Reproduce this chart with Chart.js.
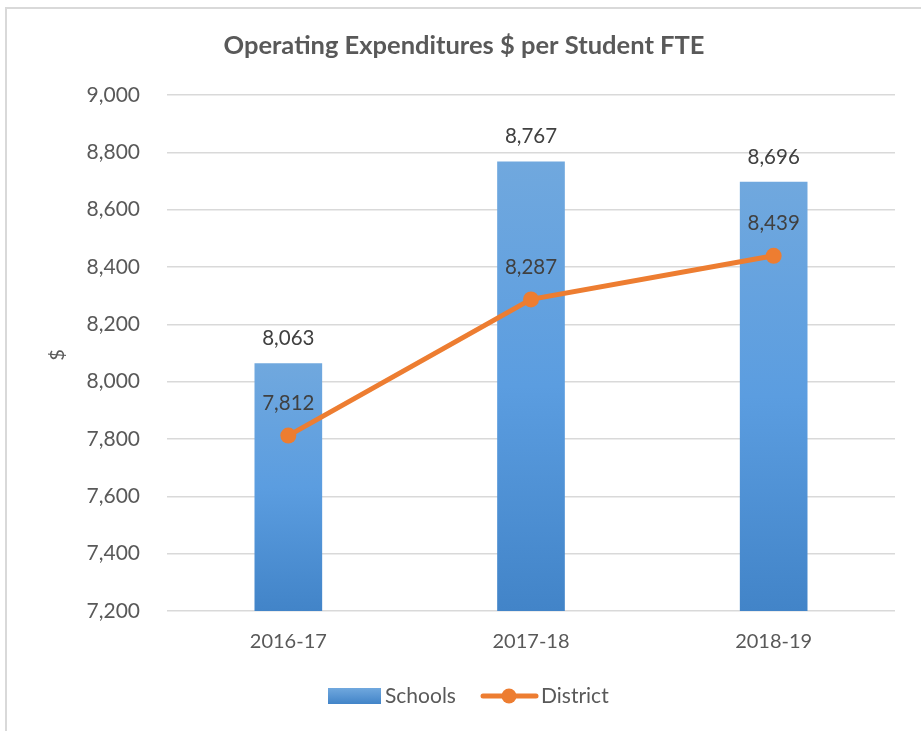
<!DOCTYPE html>
<html>
<head>
<meta charset="utf-8">
<script src="https://cdn.jsdelivr.net/npm/chart.js@4.4.0/dist/chart.umd.min.js"></script>
<style>
  html, body { margin: 0; padding: 0; background: #fff; }
  #frame { position: absolute; left: 5px; top: 7px; width: 940px; height: 760px; border: 2px solid #d9d9d9; }
  #wrap { position: absolute; left: 0; top: 0; width: 921px; height: 731px; }
</style>
</head>
<body>
<div id="frame"></div>
<div id="wrap"><canvas id="chart" width="921" height="731"></canvas></div>
<script>
  // Data
  const years = ['2016-17', '2017-18', '2018-19'];
  const schools = [8063, 8767, 8696];
  const district = [7812, 8287, 8439];
  const yMin = 7200;
  const yMax = 9000;
  const yStep = 200;

  const FONT = 'Lato, "Open Sans", sans-serif';
  const GREY = '#595959';
  const ORANGE = '#ed7d31';

  function fmt(v) {
    return v.toLocaleString('en-US');
  }

  // Gradient for the bars, per bar from its top down to the axis
  function barFill(ctx) {
    const chart = ctx.chart;
    const area = chart.chartArea;
    if (!area || ctx.type !== 'data') return '#5b9bd5';
    const top = chart.scales.y.getPixelForValue(ctx.raw);
    const g = chart.ctx.createLinearGradient(0, top, 0, area.bottom);
    g.addColorStop(0, '#70a8de');
    g.addColorStop(0.5, '#5b9de0');
    g.addColorStop(1, '#4284c8');
    return g;
  }

  // Title, axis title, data labels and legend drawn on the canvas
  const extras = {
    id: 'extras',
    afterDatasetsDraw(chart) {
      const c = chart.ctx;
      c.save();
      c.fillStyle = '#404040';
      c.font = '20.5px ' + FONT;
      c.textAlign = 'center';
      c.textBaseline = 'middle';
      chart.getDatasetMeta(0).data.forEach((el, i) => {
        c.fillText(fmt(schools[i]), el.x, el.y - 25);
      });
      chart.getDatasetMeta(1).data.forEach((el, i) => {
        c.fillText(fmt(district[i]), el.x, el.y - 32);
      });
      c.restore();
    },
    afterDraw(chart) {
      const c = chart.ctx;
      c.save();
      // title
      c.fillStyle = GREY;
      c.font = 'bold 25.5px ' + FONT;
      c.textAlign = 'center';
      c.textBaseline = 'middle';
      c.fillText('Operating Expenditures $ per Student FTE', 464, 46);

      // y axis title
      c.save();
      c.translate(58, 355);
      c.rotate(-Math.PI / 2);
      c.font = '20px ' + FONT;
      c.fillText('$', 0, 0);
      c.restore();

      // legend
      const ly = 696;
      const g = c.createLinearGradient(0, ly - 8, 0, ly + 8);
      g.addColorStop(0, '#70a8de');
      g.addColorStop(1, '#4284c8');
      c.fillStyle = g;
      c.fillRect(328, ly - 8, 53, 16);
      c.fillStyle = GREY;
      c.font = '21px ' + FONT;
      c.textAlign = 'left';
      c.fillText('Schools', 385, ly);

      c.strokeStyle = ORANGE;
      c.lineWidth = 5;
      c.lineCap = 'round';
      c.beginPath();
      c.moveTo(483, ly);
      c.lineTo(536, ly);
      c.stroke();
      c.fillStyle = ORANGE;
      c.beginPath();
      c.arc(509, ly, 7.5, 0, Math.PI * 2);
      c.fill();
      c.fillStyle = GREY;
      c.fillText('District', 541, ly);
      c.restore();
    }
  };

  const ctx = document.getElementById('chart').getContext('2d');
  const chart = new Chart(ctx, {
    type: 'bar',
    data: {
      labels: years,
      datasets: [
        {
          type: 'bar',
          label: 'Schools',
          data: schools,
          backgroundColor: barFill,
          borderWidth: 0,
          barThickness: 67,
          order: 2
        },
        {
          type: 'line',
          label: 'District',
          data: district,
          borderColor: ORANGE,
          backgroundColor: ORANGE,
          borderWidth: 5,
          pointRadius: 8,
          pointHoverRadius: 8,
          pointBackgroundColor: ORANGE,
          pointBorderWidth: 0,
          tension: 0,
          fill: false,
          order: 1
        }
      ]
    },
    options: {
      responsive: false,
      animation: false,
      layout: { padding: { top: 95, right: 26, bottom: 60, left: 0 } },
      plugins: {
        legend: { display: false },
        title: { display: false },
        tooltip: { enabled: false }
      },
      scales: {
        x: {
          afterFit: s => { s.height = 60; },
          grid: { display: false, drawTicks: false },
          border: { display: false },
          ticks: { color: GREY, font: { family: FONT, size: 20 }, padding: 19 }
        },
        y: {
          min: yMin,
          max: yMax,
          afterFit: s => { s.width = 167; },
          grid: { color: '#d9d9d9', lineWidth: 1.5, drawTicks: false },
          border: { display: false },
          ticks: {
            stepSize: yStep,
            color: GREY,
            padding: 27,
            font: { family: FONT, size: 21 },
            callback: v => fmt(v)
          }
        }
      }
    },
    plugins: [extras]
  });
</script>
</body>
</html>
